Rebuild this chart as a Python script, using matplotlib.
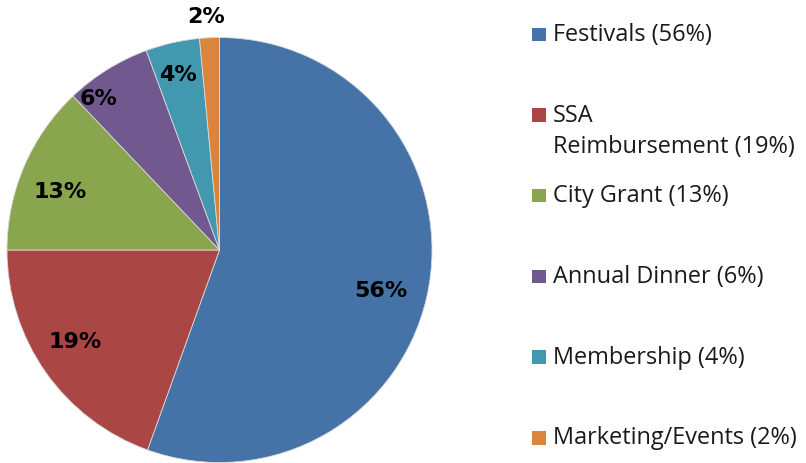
import matplotlib
matplotlib.use('Agg')
import numpy as np
from matplotlib import pyplot as plt
from matplotlib.patches import Rectangle

categories = ['Festivals', 'SSA\nReimbursement', 'City Grant', 'Annual Dinner', 'Membership', 'Marketing/Events']
values = [55.5, 19.5, 12.9, 6.5, 4.1, 1.5]
pct_labels = ['56%', '19%', '13%', '6%', '4%', '2%']
colors = ['#4572A7', '#AA4643', '#89A54E', '#71588F', '#4198AF', '#DB843D']

W, H = 806, 463
fig = plt.figure(figsize=(W / 100, H / 100), dpi=100)

# pie axes: centre ~ (219, 250), radius ~ 212 px
cx, cy, r = 219.5, 250, 212.5
ax = fig.add_axes([(cx - r) / W, 1 - (cy + r) / H, 2 * r / W, 2 * r / H])
wedges, _ = ax.pie(values, colors=colors, startangle=90, counterclock=False,
                   wedgeprops=dict(edgecolor='#d9d9d9', linewidth=0.6))
ax.set_aspect('equal')
ax.set_xlim(-1, 1)
ax.set_ylim(-1, 1)
ax.axis('off')

# data labels (distance from centre and small angle nudge)
dist = [0.785, 0.806, 0.80, 0.91, 0.847, 1.096]
nudge = [-4.5, -2.6, 3.2, 7.0, 0.7, 0.6]
total = sum(values)
start = 90.0
for v, lab, d, n in zip(values, pct_labels, dist, nudge):
    mid = start - v / total * 360 / 2 + n
    start -= v / total * 360
    a = np.deg2rad(mid)
    ax.text(d * np.cos(a), d * np.sin(a), lab, ha='center', va='center',
            fontsize=16, fontweight='bold', family='DejaVu Sans', color='black',
            clip_on=False)

# legend
for i, (cat, v, c) in enumerate(zip(categories, pct_labels, colors)):
    base = 41 + i * 80.7
    fig.patches.append(Rectangle((532 / W, 1 - base / H), 14 / W, 13.5 / H,
                                 transform=fig.transFigure, facecolor=c, edgecolor='none'))
    lines = (cat + ' (' + v + ')').split('\n')
    for j, line in enumerate(lines):
        fig.text(553 / W, 1 - (base + j * 31.3) / H, line, ha='left', va='baseline',
                 fontsize=16.9, family='Open Sans', color='#1a1a1a')

fig.savefig('out.png', dpi=100)
